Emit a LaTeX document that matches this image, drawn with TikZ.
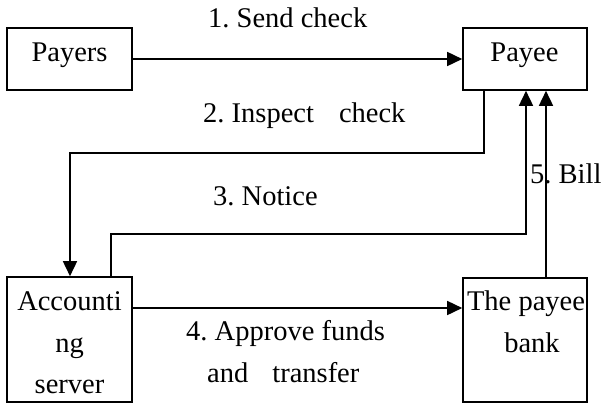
\documentclass[tikz,border=0pt]{standalone}
\usepackage{fontspec}
\setmainfont{Liberation Serif}
\frenchspacing
\usetikzlibrary{arrows.meta}
\tikzset{
  txt/.style={inner sep=0pt, anchor=base west, font=\fontsize{28.5}{34}\selectfont},
  ctxt/.style={inner sep=0pt, anchor=base, font=\fontsize{28.5}{34}\selectfont},
  boxshape/.style={draw, line width=1.6pt, inner sep=0pt},
  arr/.style={line width=1.6pt, -{Triangle[length=15pt,width=14pt]}}
}
\begin{document}
\begin{tikzpicture}[x=1pt,y=-1pt]
\useasboundingbox (0,0) rectangle (605,405);
% boxes
\node[boxshape, minimum width=125pt, minimum height=62pt] (payers) at (69.5,59) {};
\node[boxshape, minimum width=124pt, minimum height=62pt] (payee) at (525,59) {};
\node[boxshape, minimum width=125pt, minimum height=125pt] (acc) at (69.5,339.5) {};
\node[boxshape, minimum width=124pt, minimum height=124pt] (bank) at (525,340) {};
% box texts
\node[ctxt] (tpayers) at (69.5,61) {Payers};
\node[ctxt] (tpayee) at (524.5,61) {Payee};
\node[ctxt] (tacc1) at (69.5,310) {Accounti};
\node[ctxt] (tacc2) at (69.5,352) {ng};
\node[ctxt] (tacc3) at (69.5,393) {server};
\node[ctxt] (tbank1) at (526,310) {The payee};
\node[ctxt] (tbank2) at (532,352) {bank};
% connector coordinates
\coordinate (c2a) at (484,153);
\coordinate (c2b) at (70,153);
\coordinate (c3a) at (111,234);
\coordinate (c3b) at (526,234);
% connectors
\draw[arr] (payers.east) -- (payee.west);
\draw[arr] (payee.south -| c2a) -- (c2a) -- (c2b) -- (acc.north -| c2b);
\draw[arr] (acc.north -| c3a) -- (c3a) -- (c3b) -- (payee.south -| c3b);
\draw[arr] (acc.east |- 0,308) -- (bank.west |- 0,308);
\draw[arr] (bank.north -| 546,0) -- (payee.south -| 546,0);
% labels
\node[txt] (l1) at (208,27) {1. Send check};
\node[txt] (l2) at (203,122) {2. Inspect\hspace{25pt}check};
\node[txt] (l3) at (213,205) {3. Notice};
\node[txt] (l4a) at (186,340) {4. Approve funds};
\node[txt] (l4b) at (207,382) {and\hspace{24pt}transfer};
\node[txt] (l5) at (530,183) {5. Bill};
\end{tikzpicture}
\end{document}
